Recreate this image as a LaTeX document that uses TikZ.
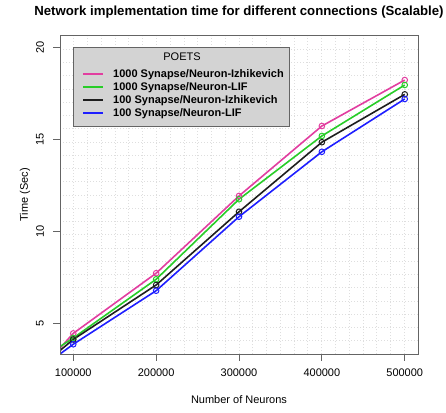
\documentclass[tikz,border=0pt]{standalone}
\usepackage{fontspec}
\setmainfont{Liberation Sans}
\definecolor{cpink}{RGB}{226,62,160}
\definecolor{cgreen}{RGB}{40,205,40}
\definecolor{cblack}{RGB}{30,30,30}
\definecolor{cblue}{RGB}{30,30,255}
\definecolor{gridgray}{RGB}{222,222,222}
\definecolor{boxgray}{RGB}{100,100,100}
\definecolor{leggray}{RGB}{211,211,211}
\tikzset{
  gridline/.style={gridgray, line width=0.7pt, dash pattern=on 1pt off 2pt},
  framebox/.style={boxgray, line width=1pt},
  tickline/.style={boxgray, line width=1pt},
  ticklab/.style={font=\fontsize{11}{13}\selectfont, inner sep=0pt},
  axlab/.style={font=\fontsize{11}{13}\selectfont, inner sep=0pt},
  series/.style={line width=1.6pt, line join=round},
  legline/.style={line width=2pt},
  marker/.style={line width=1pt},
  legtext/.style={font=\fontsize{11}{13}\selectfont\bfseries, inner sep=0pt, anchor=west},
}
\begin{document}
\begin{tikzpicture}[x=1pt,y=1pt]
\useasboundingbox (0,0) rectangle (446,412);
\fill[white] (0,0) rectangle (446,412);
% grid
\foreach \k in {1,...,25} \draw[gridline] ({60+13.769*\k},58) -- ({60+13.769*\k},376);
\foreach \k in {1,...,23} \draw[gridline] (60,{58+13.25*\k}) -- (418,{58+13.25*\k});
% data
\begin{scope}
\clip (60,58) rectangle (418,376);
\begin{scope}[shift={(-9.61pt,-3.82pt)}, x=82.87pt, y=18.40pt]
\draw[series, cpink]  (0.84,3.68) -- (1,4.48) -- (2,7.75) -- (3,11.95) -- (4,15.75) -- (5,18.25);
\draw[series, cgreen] (0.84,3.76) -- (1,4.23) -- (2,7.42) -- (3,11.77) -- (4,15.21) -- (5,17.98);
\draw[series, cblack] (0.84,3.55) -- (1,4.15) -- (2,7.11) -- (3,11.09) -- (4,14.87) -- (5,17.47);
\draw[series, cblue]  (0.84,3.36) -- (1,3.89) -- (2,6.80) -- (3,10.82) -- (4,14.35) -- (5,17.22);
\foreach \p in {(1,4.48),(2,7.75),(3,11.95),(4,15.75),(5,18.25)} \draw[marker, cpink] \p circle (2.8pt);
\foreach \p in {(1,4.23),(2,7.42),(3,11.77),(4,15.21),(5,17.98)} \draw[marker, cgreen] \p circle (2.8pt);
\foreach \p in {(1,4.15),(2,7.11),(3,11.09),(4,14.87),(5,17.47)} \draw[marker, cblack] \p circle (2.8pt);
\foreach \p in {(1,3.89),(2,6.80),(3,10.82),(4,14.35),(5,17.22)} \draw[marker, cblue] \p circle (2.8pt);
\end{scope}
\end{scope}
% frame
\draw[framebox] (60,58) rectangle (418,376);
% x ticks
\foreach \xv/\lab in {73.26/100000,156.13/200000,239.0/300000,321.87/400000,404.74/500000}{
  \draw[tickline] (\xv,58) -- (\xv,51);
  \node[ticklab] (xt\lab) at (\xv,39) {\lab};
}
% y ticks
\foreach \yv/\lab in {88.18/5,180.18/10,272.18/15,364.18/20}{
  \draw[tickline] (60,\yv) -- (53,\yv);
  \node[ticklab, rotate=90] (yt\lab) at (40,\yv) {\lab};
}
% titles
\node[font=\fontsize{13.2}{15}\selectfont\bfseries, inner sep=0pt] (title) at (239,400) {Network implementation time for different connections (Scalable)};
\node[axlab] (xlabel) at (239,12) {Number of Neurons};
\node[axlab, rotate=90] (ylabel) at (25,217) {Time (Sec)};
% legend
\draw[fill=leggray, draw=boxgray, line width=1pt] (73,285) rectangle (289,364);
\node[axlab] (legtitle) at (182,355.3) {POETS};
\draw[legline, cpink]  (83,338) -- (103,338);
\draw[legline, cgreen] (83,324.5) -- (103,324.5);
\draw[legline, cblack] (83,311.5) -- (103,311.5);
\draw[legline, cblue]  (83,298.5) -- (103,298.5);
\node[legtext] (l1) at (113,337.7) {1000 Synapse/Neuron-Izhikevich};
\node[legtext] (l2) at (113,324.3) {1000 Synapse/Neuron-LIF};
\node[legtext] (l3) at (113,311.0) {100 Synapse/Neuron-Izhikevich};
\node[legtext] (l4) at (113,298.7) {100 Synapse/Neuron-LIF};
\end{tikzpicture}
\end{document}
